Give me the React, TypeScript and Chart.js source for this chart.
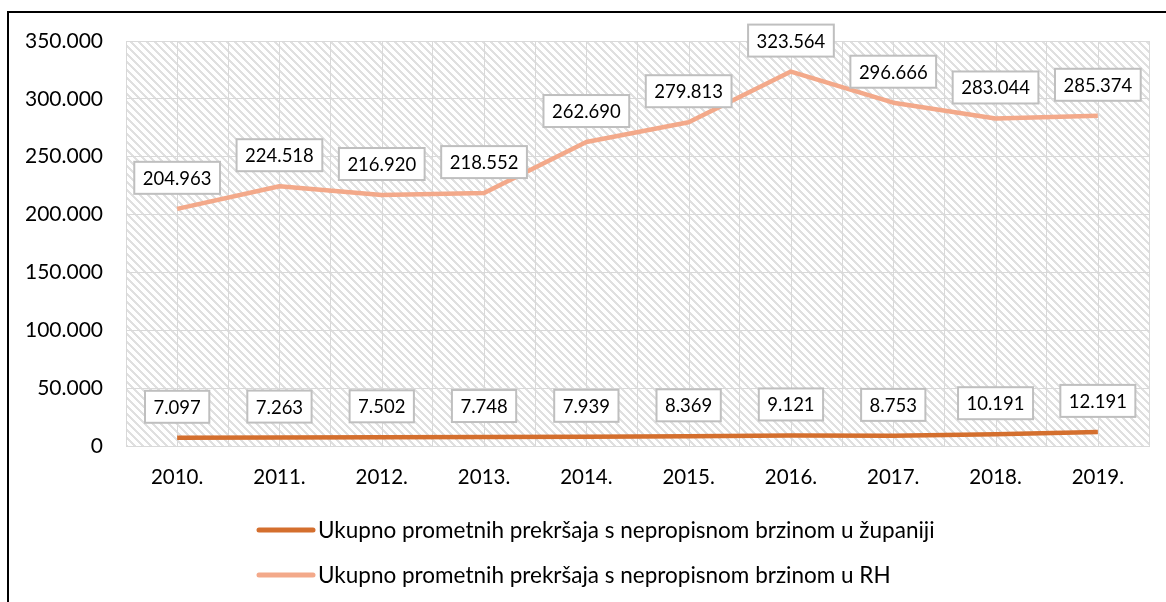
import React, { useEffect, useRef } from 'react';
import { Chart, registerables } from 'chart.js';

Chart.register(...registerables);

const categories = ['2010.', '2011.', '2012.', '2013.', '2014.', '2015.', '2016.', '2017.', '2018.', '2019.'];
const countyValues = [7097, 7263, 7502, 7748, 7939, 8369, 9121, 8753, 10191, 12191];
const nationalValues = [204963, 224518, 216920, 218552, 262690, 279813, 323564, 296666, 283044, 285374];
const seriesNames = [
  'Ukupno prometnih prekršaja s nepropisnom brzinom u županiji',
  'Ukupno prometnih prekršaja s nepropisnom brzinom u RH',
];
const seriesColors = ['#D46F2E', '#F3A98A'];
const yMin = 0;
const yMax = 350000;
const yStep = 50000;

const FONT = 'Lato, "Open Sans", sans-serif';
const GRID = '#d9d9d9';

const fmt = (v: number) => String(Math.round(v)).replace(/\B(?=(\d{3})+(?!\d))/g, '.');

function makeHatch(ctx: CanvasRenderingContext2D) {
  const size = 8;
  const c = document.createElement('canvas');
  c.width = size;
  c.height = size;
  const g = c.getContext('2d')!;
  const img = g.createImageData(size, size);
  for (let y = 0; y < size; y++) {
    for (let x = 0; x < size; x++) {
      const d = (((x - y) % size) + size) % size;
      const i = (y * size + x) * 4;
      const v = d < 3 ? 224 : 255;
      img.data[i] = v;
      img.data[i + 1] = v;
      img.data[i + 2] = v;
      img.data[i + 3] = 255;
    }
  }
  g.putImageData(img, 0, 0);
  return ctx.createPattern(c, 'repeat');
}

const hatchPlugin = {
  id: 'hatch',
  beforeDraw(chart: any) {
    const { ctx, chartArea } = chart;
    ctx.save();
    ctx.fillStyle = '#ffffff';
    ctx.fillRect(0, 0, chart.width, chart.height);
    const p = makeHatch(ctx);
    if (p) {
      ctx.fillStyle = p;
      ctx.fillRect(chartArea.left, chartArea.top, chartArea.right - chartArea.left, chartArea.bottom - chartArea.top);
    }
    ctx.restore();
  },
};

const centerGridPlugin = {
  id: 'centerGrid',
  beforeDatasetsDraw(chart: any) {
    const { ctx, chartArea } = chart;
    const xs = chart.scales.x;
    ctx.save();
    ctx.strokeStyle = GRID;
    ctx.lineWidth = 1;
    ctx.beginPath();
    for (let i = 0; i < categories.length; i++) {
      const x = Math.round(xs.getPixelForValue(i)) + 0.5;
      ctx.moveTo(x, chartArea.top);
      ctx.lineTo(x, chartArea.bottom);
    }
    ctx.stroke();
    ctx.restore();
  },
};

const labelPlugin = {
  id: 'boxLabels',
  afterDatasetsDraw(chart: any) {
    const { ctx } = chart;
    ctx.save();
    ctx.font = `18.5px ${FONT}`;
    ctx.textAlign = 'center';
    ctx.textBaseline = 'middle';
    chart.data.datasets.forEach((ds: any, di: number) => {
      const meta = chart.getDatasetMeta(di);
      meta.data.forEach((el: any, i: number) => {
        const text = fmt(ds.data[i]);
        const w = ctx.measureText(text).width + 17;
        const h = 32;
        const cx = el.x;
        const cy = el.y - 31;
        ctx.fillStyle = '#ffffff';
        ctx.fillRect(cx - w / 2, cy - h / 2, w, h);
        ctx.strokeStyle = '#bfbfbf';
        ctx.lineWidth = 2;
        ctx.strokeRect(cx - w / 2, cy - h / 2, w, h);
        ctx.fillStyle = '#000000';
        ctx.fillText(text, cx, cy + 1);
      });
    });
    ctx.restore();
  },
};

const legendPlugin = {
  id: 'customLegend',
  afterDraw(chart: any) {
    const { ctx } = chart;
    ctx.save();
    ctx.font = `22.5px ${FONT}`;
    ctx.textAlign = 'left';
    ctx.textBaseline = 'middle';
    const startX = 259;
    const rowY = [530, 575];
    chart.data.datasets.forEach((ds: any, i: number) => {
      const y = rowY[i];
      ctx.strokeStyle = ds.borderColor;
      ctx.lineWidth = 5;
      ctx.lineCap = 'round';
      ctx.beginPath();
      ctx.moveTo(startX, y);
      ctx.lineTo(startX + 54, y);
      ctx.stroke();
      ctx.fillStyle = '#000000';
      ctx.fillText(ds.label, startX + 59, y + 1);
    });
    ctx.restore();
  },
};

export default function App() {
  const ref = useRef<HTMLCanvasElement | null>(null);

  useEffect(() => {
    if (!ref.current) return;
    const chart = new Chart(ref.current, {
      type: 'line',
      data: {
        labels: categories,
        datasets: [
          {
            label: seriesNames[0],
            data: countyValues,
            borderColor: seriesColors[0],
            backgroundColor: seriesColors[0],
            borderWidth: 4.5,
            pointRadius: 0,
            tension: 0,
            borderJoinStyle: 'round',
            fill: false,
          },
          {
            label: seriesNames[1],
            data: nationalValues,
            borderColor: seriesColors[1],
            backgroundColor: seriesColors[1],
            borderWidth: 4.5,
            pointRadius: 0,
            tension: 0,
            borderJoinStyle: 'round',
            fill: false,
          },
        ],
      },
      options: {
        animation: false,
        responsive: false,
        devicePixelRatio: 1,
        layout: { padding: { left: 0, right: 17, top: 41, bottom: 96 } },
        plugins: {
          legend: { display: false },
          tooltip: { enabled: false },
        },
        scales: {
          x: {
            offset: true,
            grid: { offset: true, color: GRID, lineWidth: 1, drawTicks: false },
            border: { display: true, color: GRID, width: 1 },
            ticks: {
              font: { family: FONT, size: 20.5 },
              color: '#000000',
              padding: 19,
              maxRotation: 0,
              autoSkip: false,
            },
            afterFit(scale: any) {
              scale.height = 60;
            },
          },
          y: {
            min: yMin,
            max: yMax,
            grid: { color: GRID, lineWidth: 1, drawTicks: false },
            border: { display: false },
            ticks: {
              stepSize: yStep,
              font: { family: FONT, size: 21 },
              color: '#000000',
              padding: 23,
              callback: (v: any) => fmt(Number(v)),
            },
            afterFit(scale: any) {
              scale.width = 126;
            },
          },
        },
      },
      plugins: [hatchPlugin, centerGridPlugin, labelPlugin, legendPlugin],
    });
    return () => chart.destroy();
  }, []);

  return (
    <div style={{ position: 'fixed', left: 0, top: 0, width: 1166, height: 602, overflow: 'hidden', background: '#fff' }}>
      <canvas ref={ref} width={1166} height={602} style={{ display: 'block', width: 1166, height: 602 }} />
      <div
        style={{
          position: 'absolute',
          left: 7,
          top: 11,
          width: 1400,
          height: 900,
          border: '2px solid #000',
          boxSizing: 'border-box',
          pointerEvents: 'none',
        }}
      />
    </div>
  );
}
